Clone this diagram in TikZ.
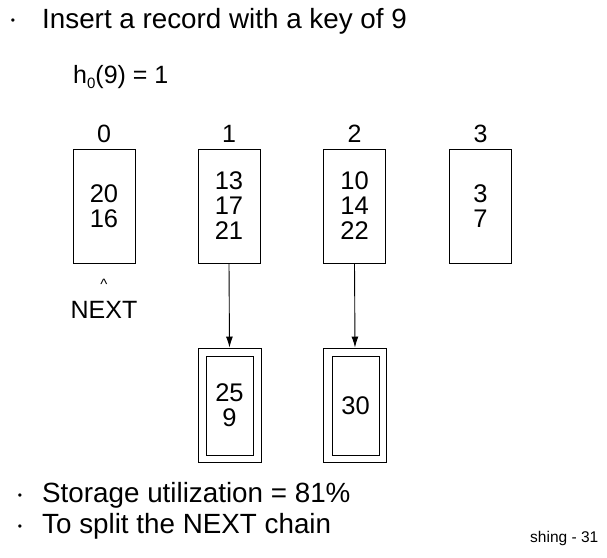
\documentclass[tikz,border=0pt]{standalone}
\usepackage{fontspec}
\setmainfont{Liberation Sans}
\usetikzlibrary{arrows.meta}
\begin{document}
\begin{tikzpicture}[x=1pt,y=-1pt,
  big/.style={font=\fontsize{27.8}{30}\selectfont, inner sep=0pt, anchor=base west},
  mid/.style={font=\fontsize{25}{25}\selectfont, inner sep=0pt},
  bucket/.style={draw, line width=0.9pt, minimum width=62pt, minimum height=114pt, inner sep=0pt, align=center, font=\fontsize{25.5}{25}\selectfont},
  outerbox/.style={draw, line width=0.9pt, minimum width=63pt, minimum height=114pt, inner sep=0pt},
  innerbox/.style={draw, line width=0.9pt, minimum width=47pt, minimum height=99pt, inner sep=0pt, align=center, font=\fontsize{25.5}{25}\selectfont},
  dot/.style={font=\fontsize{12}{12}\selectfont, inner sep=0pt},
  link/.style={line width=0.9pt, -{Latex[length=11pt,width=7pt]}}
]
\useasboundingbox (0,0) rectangle (607,557);
% title
\node[dot] (b0) at (13,22) {•};
\node[big] (title) at (42,28) {Insert a record with a key of 9};
\node[mid, anchor=base west] (hash) at (73,83) {h\raisebox{-5pt}{\fontsize{15}{15}\selectfont 0}(9) = 1};
% column labels
\node[mid, anchor=base] (l0) at (104,142) {0};
\node[mid, anchor=base] (l1) at (229,142) {1};
\node[mid, anchor=base] (l2) at (354.5,142) {2};
\node[mid, anchor=base] (l3) at (480.5,142) {3};
% buckets
\node[bucket] (k0) at (104,206) {20\\16};
\node[bucket] (k1) at (229,206) {13\\17\\21};
\node[bucket] (k2) at (354.5,206) {10\\14\\22};
\node[bucket] (k3) at (480.5,206) {3\\7};
% NEXT pointer
\node[font=\fontsize{15}{15}\selectfont, inner sep=0pt] (caret) at (104,284) {\^{}};
\node[mid, anchor=base] (next) at (104,318) {NEXT};
% overflow
\node[outerbox] (o1) at (229.5,405) {};
\node[innerbox] (i1) at (229.5,405.5) {25\\9};
\node[outerbox] (o2) at (355,405) {};
\node[innerbox] (i2) at (355.5,405.5) {30};
\draw[link] (k1.south) -- (o1.north);
\draw[link] (k2.south) -- (o2.north);
% bottom
\node[dot] (b1) at (20,497) {•};
\node[big] (s1) at (42,502) {Storage utilization = 81\%};
\node[dot] (b2) at (20,528) {•};
\node[big] (s2) at (42,533) {To split the NEXT chain};
\node[font=\fontsize{15.5}{15}\selectfont, inner sep=0pt, anchor=base west] (foot) at (530,542) {shing - 31};
\end{tikzpicture}
\end{document}
